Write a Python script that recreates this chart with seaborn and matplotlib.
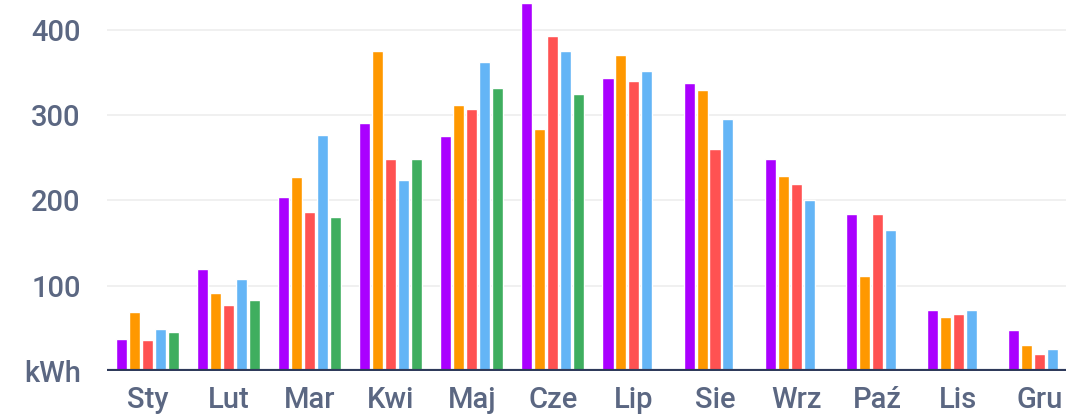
import numpy as np
import pandas as pd
import matplotlib
matplotlib.use("Agg")
import matplotlib.pyplot as plt
import seaborn as sns

# Monthly energy per year (kWh)
months = ["Sty", "Lut", "Mar", "Kwi", "Maj", "Cze", "Lip", "Sie", "Wrz", "Paź", "Lis", "Gru"]
series_names = ["S1", "S2", "S3", "S4", "S5"]
s1 = [37, 120, 204, 291, 275, 431, 343, 338, 249, 184, 72, 48]
s2 = [69, 92, 227, 375, 312, 284, 370, 329, 229, 111, 63, 31]
s3 = [36, 77, 186, 249, 307, 393, 340, 260, 219, 184, 67, 20]
s4 = [49, 108, 277, 224, 362, 375, 352, 296, 201, 165, 71, 26]
s5 = [46, 83, 180, 248, 332, 325, np.nan, np.nan, np.nan, np.nan, np.nan, np.nan]
yticks = [0, 100, 200, 300, 400]
ytick_labels = ["kWh", "100", "200", "300", "400"]

colors = ["#aa00ff", "#ff9800", "#ff5252", "#64b5f6", "#3fae5f"]
text_color = "#5b6782"

rows = []
for name, vals in zip(series_names, [s1, s2, s3, s4, s5]):
    for m, v in zip(months, vals):
        rows.append({"month": m, "series": name, "kwh": v})
df = pd.DataFrame(rows)

sns.set_style("white")
plt.rcParams["font.family"] = ["Roboto", "DejaVu Sans"]

fig = plt.figure(figsize=(10.66, 4.18), dpi=100)
ax = fig.add_axes([0.1004, 0.1124, 0.8996, 0.8876])

sns.barplot(data=df, x="month", y="kwh", hue="series", order=months,
            hue_order=series_names, palette=colors, width=0.8, gap=0.15,
            saturation=1, legend=False, ax=ax)

ax.set_xlim(-0.5, 11.33)
ax.set_ylim(0, 435)
ax.set_yticks(yticks)
ax.set_yticklabels(ytick_labels)
ax.grid(axis="y", color="#eeeeee", linewidth=1.2)
ax.set_axisbelow(True)
for s in ["top", "right", "left", "bottom"]:
    ax.spines[s].set_visible(False)
ax.axhline(0, color="#2e3a5a", linewidth=3, zorder=5)

ax.tick_params(axis="both", length=0, labelsize=21, labelcolor=text_color)
ax.tick_params(axis="y", pad=19)
ax.tick_params(axis="x", pad=11)
for lbl in ax.get_xticklabels() + ax.get_yticklabels():
    lbl.set_fontweight("medium")
ax.set_xlabel("")
ax.set_ylabel("")

fig.savefig("out.png", dpi=100)
